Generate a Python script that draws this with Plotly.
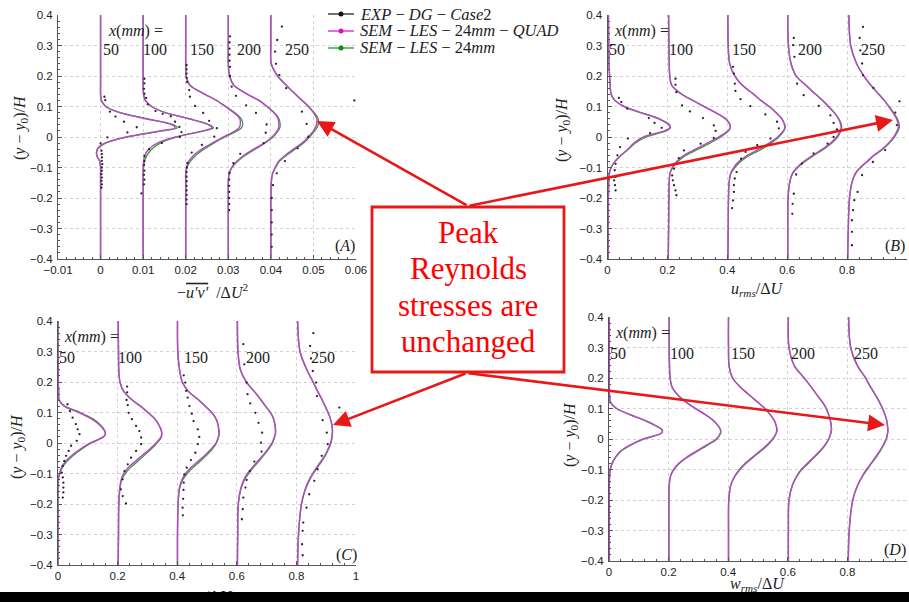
import plotly.graph_objects as go

W, H = 909, 602

# ---------------- data ----------------
STATIONS = ["50", "100", "150", "200", "250"]
OFF_A = [0.0, 0.01, 0.02, 0.03, 0.04]
OFF_UVW = [0.0, 0.2, 0.4, 0.6, 0.8]

# y levels for simulated profiles
Y_SIM = [0.40, 0.30, 0.24, 0.20, 0.17, 0.14, 0.12, 0.10, 0.08, 0.06, 0.04, 0.03, 0.02,
         0.00, -0.02, -0.04, -0.06, -0.08, -0.10, -0.12, -0.15, -0.20, -0.30, -0.40]

# (A) -u'v'/dU^2
A_QUAD = [
    [0, 0, 0, 0, 0, 0, 0.0002, 0.0012, 0.0045, 0.0105, 0.0168, 0.0175, 0.0140, 0.0060, 0.0012, -0.0007, -0.0009, -0.0002, 0, 0, 0, 0, 0, 0],
    [0, 0, 0, 0, 0, 0.0001, 0.0005, 0.0020, 0.0052, 0.0107, 0.0154, 0.0162, 0.0140, 0.0076, 0.0033, 0.0013, 0.0004, 0.0001, 0, 0, 0, 0, 0, 0],
    [0, 0, 0, 0.0001, 0.0010, 0.0045, 0.0072, 0.0093, 0.0113, 0.0127, 0.0128, 0.0125, 0.0116, 0.0089, 0.0062, 0.0038, 0.0019, 0.0007, 0.0002, 0, 0, 0, 0, 0],
    [0, 0, 0, 0.0003, 0.0013, 0.0045, 0.0072, 0.0091, 0.0107, 0.0117, 0.0119, 0.0118, 0.0115, 0.0103, 0.0084, 0.0060, 0.0037, 0.0020, 0.0008, 0.0002, 0, 0, 0, 0],
    [0, 0, 0.0001, 0.0016, 0.0036, 0.0058, 0.0073, 0.0088, 0.0100, 0.0108, 0.0107, 0.0104, 0.0100, 0.0088, 0.0073, 0.0053, 0.0034, 0.0018, 0.0010, 0.0004, 0.0001, 0, 0, 0],
]
A_SEM = [
    [0, 0, 0, 0, 0, 0, 0.0002, 0.0012, 0.0046, 0.0108, 0.0172, 0.0180, 0.0145, 0.0062, 0.0010, -0.0008, -0.0009, -0.0002, 0, 0, 0, 0, 0, 0],
    [0, 0, 0, 0, 0, 0.0001, 0.0005, 0.0020, 0.0052, 0.0108, 0.0156, 0.0165, 0.0143, 0.0080, 0.0040, 0.0020, 0.0009, 0.0003, 0.0001, 0, 0, 0, 0, 0],
    [0, 0, 0, 0.0001, 0.0010, 0.0045, 0.0072, 0.0094, 0.0115, 0.0130, 0.0134, 0.0131, 0.0121, 0.0092, 0.0066, 0.0043, 0.0024, 0.0011, 0.0003, 0, 0, 0, 0, 0],
    [0, 0, 0, 0.0003, 0.0013, 0.0045, 0.0072, 0.0091, 0.0108, 0.0119, 0.0122, 0.0121, 0.0117, 0.0105, 0.0086, 0.0063, 0.0040, 0.0022, 0.0009, 0.0002, 0, 0, 0, 0],
    [0, 0, 0.0001, 0.0016, 0.0036, 0.0058, 0.0074, 0.0089, 0.0102, 0.0111, 0.0111, 0.0108, 0.0103, 0.0091, 0.0077, 0.0057, 0.0037, 0.0020, 0.0011, 0.0004, 0.0001, 0, 0, 0],
]
A_EXP_Y = [
    [0.132, 0.121, 0.083, 0.067, 0.050, 0.032, 0.015, -0.001, -0.021, -0.045, -0.056, -0.067, -0.078, -0.089, -0.100, -0.111, -0.122, -0.133, -0.144, -0.155, -0.166],
    [0.191, 0.176, 0.158, 0.142, 0.128, 0.107, 0.085, 0.076, 0.068, 0.050, 0.033, 0.016, 0.000, -0.020, -0.040, -0.063, -0.079, -0.092, -0.110, -0.124, -0.140, -0.155, -0.185],
    [0.236, 0.222, 0.208, 0.194, 0.180, 0.154, 0.132, 0.102, 0.079, 0.053, 0.029, 0.001, -0.026, -0.051, -0.085, -0.100, -0.115, -0.130, -0.145, -0.160, -0.175, -0.190, -0.205, -0.220],
    [0.330, 0.310, 0.290, 0.270, 0.250, 0.230, 0.200, 0.165, 0.135, 0.104, 0.079, 0.041, 0.014, -0.020, -0.055, -0.086, -0.118, -0.140, -0.160, -0.180, -0.200, -0.220, -0.240],
    [0.362, 0.318, 0.280, 0.240, 0.203, 0.160, 0.120, 0.083, 0.043, 0.001, -0.037, -0.079, -0.119, -0.158, -0.200, -0.240, -0.280, -0.320, -0.360],
]
A_EXP_V = [
    [0.0009, 0.0011, 0.0022, 0.0035, 0.0055, 0.0085, 0.0063, 0.0016, 0.0000, 0.0002, 0.0003, 0.0003, 0.0003, 0.0004, 0.0003, 0.0003, 0.0002, 0.0003, 0.0002, 0.0003, 0.0002],
    [0.0003, 0.0003, 0.0002, 0.0003, 0.0007, 0.0011, 0.0029, 0.0046, 0.0065, 0.0075, 0.0085, 0.0090, 0.0086, 0.0044, 0.0014, 0.0003, 0.0003, 0.0002, 0.0003, 0.0002, 0.0003, 0.0002, -0.0004],
    [0.0002, 0.0002, 0.0002, 0.0002, 0.0003, 0.0008, 0.0010, 0.0022, 0.0041, 0.0055, 0.0073, 0.0067, 0.0038, 0.0014, 0.0004, 0.0003, 0.0002, 0.0002, 0.0002, 0.0002, 0.0002, 0.0002, 0.0002, 0.0002],
    [0.0004, 0.0003, 0.0003, 0.0003, 0.0003, 0.0004, 0.0004, 0.0008, 0.0018, 0.0042, 0.0065, 0.0090, 0.0088, 0.0083, 0.0028, 0.0012, 0.0003, 0.0002, 0.0002, 0.0002, 0.0002, 0.0002, 0.0002],
    [0.0026, 0.0015, 0.0010, 0.0012, 0.0020, 0.0036, 0.0196, 0.0073, 0.0084, 0.0088, 0.0063, 0.0033, 0.0014, 0.0005, 0.0002, 0.0002, 0.0002, 0.0002, 0.0002],
]

# (B) u_rms/dU
B_QUAD = [
    [0.003, 0.004, 0.005, 0.007, 0.009, 0.012, 0.025, 0.055, 0.110, 0.170, 0.205, 0.208, 0.190, 0.120, 0.088, 0.068, 0.045, 0.025, 0.012, 0.006, 0.004, 0.003, 0.002, 0.002],
    [0.004, 0.005, 0.006, 0.008, 0.014, 0.048, 0.085, 0.122, 0.161, 0.194, 0.209, 0.209, 0.202, 0.172, 0.133, 0.094, 0.055, 0.031, 0.016, 0.008, 0.006, 0.005, 0.004, 0.003],
    [0.002, 0.003, 0.008, 0.025, 0.050, 0.088, 0.112, 0.140, 0.163, 0.182, 0.191, 0.192, 0.187, 0.168, 0.139, 0.106, 0.067, 0.039, 0.022, 0.011, 0.006, 0.004, 0.003, 0.002],
    [0.002, 0.004, 0.013, 0.030, 0.062, 0.095, 0.118, 0.138, 0.157, 0.171, 0.179, 0.180, 0.177, 0.165, 0.145, 0.118, 0.085, 0.056, 0.033, 0.017, 0.008, 0.003, 0.002, 0.002],
    [0.006, 0.012, 0.032, 0.056, 0.079, 0.106, 0.124, 0.139, 0.153, 0.165, 0.171, 0.171, 0.167, 0.156, 0.139, 0.117, 0.089, 0.067, 0.044, 0.027, 0.016, 0.008, 0.004, 0.002],
]
B_SEM = [
    [0.003, 0.004, 0.005, 0.007, 0.009, 0.012, 0.025, 0.056, 0.112, 0.172, 0.207, 0.210, 0.195, 0.130, 0.092, 0.070, 0.046, 0.026, 0.012, 0.006, 0.004, 0.003, 0.002, 0.002],
    [0.004, 0.005, 0.006, 0.008, 0.014, 0.048, 0.085, 0.122, 0.161, 0.194, 0.209, 0.210, 0.204, 0.178, 0.142, 0.103, 0.062, 0.036, 0.018, 0.009, 0.006, 0.005, 0.004, 0.003],
    [0.002, 0.003, 0.008, 0.025, 0.050, 0.088, 0.112, 0.140, 0.163, 0.182, 0.192, 0.193, 0.189, 0.172, 0.146, 0.115, 0.075, 0.045, 0.025, 0.012, 0.006, 0.004, 0.003, 0.002],
    [0.002, 0.004, 0.013, 0.030, 0.062, 0.095, 0.118, 0.138, 0.157, 0.172, 0.181, 0.182, 0.179, 0.168, 0.149, 0.122, 0.090, 0.060, 0.035, 0.018, 0.008, 0.003, 0.002, 0.002],
    [0.006, 0.012, 0.032, 0.056, 0.079, 0.106, 0.124, 0.140, 0.155, 0.168, 0.174, 0.174, 0.170, 0.158, 0.141, 0.119, 0.091, 0.068, 0.045, 0.028, 0.016, 0.008, 0.004, 0.002],
]
B_EXP_Y = [
    [0.128, 0.115, 0.093, 0.062, 0.046, 0.030, 0.013, -0.005, -0.033, -0.060, -0.088, -0.109, -0.131, -0.142, -0.158, -0.175],
    [0.191, 0.171, 0.147, 0.104, 0.084, 0.062, 0.038, 0.020, -0.003, -0.022, -0.044, -0.069, -0.104, -0.126, -0.142, -0.158, -0.175, -0.191],
    [0.230, 0.208, 0.175, 0.151, 0.124, 0.101, 0.074, 0.050, 0.028, -0.005, -0.027, -0.049, -0.071, -0.115, -0.136, -0.158, -0.180, -0.208, -0.233],
    [0.325, 0.301, 0.263, 0.175, 0.137, 0.102, 0.071, 0.046, 0.025, 0.000, -0.022, -0.054, -0.087, -0.123, -0.186, -0.219, -0.252],
    [0.361, 0.325, 0.284, 0.241, 0.203, 0.161, 0.117, 0.080, 0.039, -0.043, -0.082, -0.125, -0.180, -0.207, -0.240, -0.273, -0.311, -0.355],
]
B_EXP_V = [
    [0.038, 0.046, 0.066, 0.138, 0.157, 0.181, 0.142, 0.068, 0.042, 0.033, 0.027, 0.024, 0.027, 0.022, 0.025, 0.027],
    [0.027, 0.027, 0.030, 0.049, 0.075, 0.119, 0.155, 0.161, 0.155, 0.111, 0.055, 0.038, 0.022, 0.016, 0.018, 0.022, 0.027, 0.030],
    [0.019, 0.022, 0.025, 0.027, 0.044, 0.077, 0.127, 0.166, 0.172, 0.144, 0.100, 0.061, 0.046, 0.031, 0.025, 0.022, 0.022, 0.019, 0.016],
    [0.022, 0.020, 0.024, 0.033, 0.055, 0.105, 0.144, 0.155, 0.166, 0.155, 0.135, 0.088, 0.049, 0.030, 0.022, 0.018, 0.017],
    [0.053, 0.042, 0.044, 0.050, 0.053, 0.088, 0.175, 0.161, 0.166, 0.127, 0.086, 0.050, 0.035, 0.024, 0.020, 0.016, 0.016, 0.016],
]

# (C) v_rms/dU
C_QUAD = [
    [0.000, 0.000, 0.001, 0.001, 0.002, 0.004, 0.022, 0.070, 0.111, 0.139, 0.156, 0.159, 0.152, 0.108, 0.075, 0.047, 0.026, 0.012, 0.005, 0.001, 0.000, 0.000, 0.000, 0.000],
    [0.002, 0.003, 0.004, 0.008, 0.020, 0.050, 0.078, 0.102, 0.124, 0.138, 0.147, 0.148, 0.146, 0.129, 0.108, 0.083, 0.060, 0.036, 0.020, 0.012, 0.007, 0.004, 0.003, 0.002],
    [0.001, 0.002, 0.008, 0.017, 0.037, 0.073, 0.095, 0.116, 0.130, 0.137, 0.140, 0.140, 0.138, 0.130, 0.114, 0.093, 0.070, 0.047, 0.028, 0.016, 0.007, 0.003, 0.001, 0.001],
    [0.002, 0.004, 0.012, 0.032, 0.058, 0.082, 0.097, 0.113, 0.123, 0.128, 0.130, 0.129, 0.126, 0.118, 0.104, 0.088, 0.070, 0.052, 0.036, 0.024, 0.013, 0.005, 0.003, 0.002],
    [0.004, 0.012, 0.035, 0.056, 0.071, 0.087, 0.097, 0.106, 0.114, 0.119, 0.121, 0.120, 0.119, 0.115, 0.106, 0.096, 0.082, 0.068, 0.055, 0.043, 0.030, 0.017, 0.007, 0.004],
]
C_SEM = [
    [0.000, 0.000, 0.001, 0.001, 0.002, 0.004, 0.024, 0.075, 0.116, 0.142, 0.157, 0.159, 0.153, 0.112, 0.079, 0.052, 0.030, 0.015, 0.006, 0.001, 0.000, 0.000, 0.000, 0.000],
    [0.002, 0.003, 0.004, 0.008, 0.020, 0.050, 0.078, 0.102, 0.124, 0.138, 0.147, 0.148, 0.147, 0.132, 0.113, 0.090, 0.068, 0.044, 0.026, 0.014, 0.008, 0.004, 0.003, 0.002],
    [0.001, 0.002, 0.008, 0.017, 0.037, 0.073, 0.095, 0.116, 0.130, 0.137, 0.140, 0.141, 0.139, 0.132, 0.118, 0.098, 0.077, 0.054, 0.034, 0.019, 0.008, 0.003, 0.001, 0.001],
    [0.002, 0.004, 0.012, 0.032, 0.058, 0.082, 0.097, 0.113, 0.123, 0.128, 0.130, 0.130, 0.127, 0.120, 0.107, 0.091, 0.074, 0.056, 0.040, 0.026, 0.014, 0.005, 0.003, 0.002],
    [0.004, 0.012, 0.035, 0.056, 0.071, 0.087, 0.097, 0.106, 0.114, 0.119, 0.121, 0.121, 0.120, 0.116, 0.108, 0.098, 0.085, 0.071, 0.057, 0.045, 0.031, 0.017, 0.007, 0.004],
]
C_EXP_Y = [
    [0.127, 0.105, 0.083, 0.062, 0.045, 0.029, 0.007, -0.009, -0.026, -0.042, -0.059, -0.075, -0.097, -0.113, -0.130, -0.146, -0.162, -0.179],
    [0.185, 0.166, 0.141, 0.124, 0.099, 0.078, 0.056, 0.039, 0.018, -0.004, -0.026, -0.048, -0.070, -0.092, -0.119, -0.152, -0.174, -0.198],
    [0.222, 0.198, 0.171, 0.149, 0.121, 0.096, 0.072, 0.045, 0.020, -0.004, -0.032, -0.056, -0.081, -0.103, -0.130, -0.154, -0.183, -0.212, -0.237],
    [0.324, 0.258, 0.198, 0.160, 0.130, 0.099, 0.066, 0.034, 0.001, -0.028, -0.061, -0.092, -0.121, -0.146, -0.179, -0.217, -0.250],
    [0.360, 0.318, 0.277, 0.236, 0.198, 0.154, 0.116, 0.075, 0.034, -0.004, -0.042, -0.086, -0.124, -0.168, -0.212, -0.261, -0.288, -0.332, -0.368],
]
C_EXP_V = [
    [0.032, 0.040, 0.049, 0.060, 0.066, 0.072, 0.063, 0.044, 0.036, 0.027, 0.021, 0.016, 0.013, 0.016, 0.018, 0.018, 0.018, 0.016],
    [0.032, 0.032, 0.030, 0.034, 0.037, 0.048, 0.062, 0.073, 0.079, 0.079, 0.062, 0.045, 0.034, 0.023, 0.017, 0.011, 0.017, 0.028],
    [0.022, 0.027, 0.030, 0.035, 0.041, 0.049, 0.055, 0.069, 0.074, 0.069, 0.061, 0.046, 0.032, 0.024, 0.022, 0.021, 0.020, 0.018, 0.019],
    [0.022, 0.025, 0.033, 0.036, 0.045, 0.062, 0.073, 0.085, 0.081, 0.083, 0.059, 0.044, 0.033, 0.029, 0.022, 0.020, 0.017],
    [0.057, 0.046, 0.049, 0.055, 0.066, 0.069, 0.144, 0.088, 0.102, 0.105, 0.085, 0.071, 0.060, 0.043, 0.034, 0.023, 0.021, 0.019, 0.021],
]

# (D) w_rms/dU
D_QUAD = [
    [0.001, 0.001, 0.001, 0.001, 0.001, 0.002, 0.005, 0.025, 0.070, 0.122, 0.163, 0.178, 0.176, 0.115, 0.070, 0.038, 0.021, 0.010, 0.004, 0.002, 0.001, 0.001, 0.001, 0.001],
    [0.002, 0.002, 0.003, 0.005, 0.012, 0.035, 0.060, 0.090, 0.123, 0.151, 0.169, 0.174, 0.174, 0.160, 0.127, 0.093, 0.060, 0.034, 0.017, 0.007, 0.002, 0.001, 0.001, 0.001],
    [0.001, 0.001, 0.003, 0.015, 0.041, 0.076, 0.100, 0.123, 0.141, 0.155, 0.162, 0.163, 0.161, 0.149, 0.130, 0.106, 0.081, 0.057, 0.038, 0.023, 0.009, 0.002, 0.001, 0.001],
    [0.002, 0.004, 0.022, 0.055, 0.079, 0.101, 0.117, 0.129, 0.137, 0.143, 0.146, 0.146, 0.144, 0.137, 0.124, 0.107, 0.086, 0.066, 0.045, 0.031, 0.016, 0.004, 0.002, 0.002],
    [0.004, 0.011, 0.034, 0.061, 0.078, 0.097, 0.108, 0.118, 0.126, 0.132, 0.135, 0.136, 0.135, 0.130, 0.120, 0.108, 0.094, 0.079, 0.064, 0.051, 0.035, 0.018, 0.006, 0.003],
]
D_SEM = [
    [0.001, 0.001, 0.001, 0.001, 0.001, 0.002, 0.005, 0.026, 0.071, 0.123, 0.164, 0.179, 0.177, 0.118, 0.073, 0.040, 0.022, 0.011, 0.004, 0.002, 0.001, 0.001, 0.001, 0.001],
    [0.002, 0.002, 0.003, 0.005, 0.012, 0.035, 0.060, 0.090, 0.123, 0.151, 0.169, 0.174, 0.175, 0.162, 0.131, 0.097, 0.063, 0.036, 0.018, 0.007, 0.002, 0.001, 0.001, 0.001],
    [0.001, 0.001, 0.003, 0.015, 0.041, 0.076, 0.100, 0.123, 0.141, 0.155, 0.162, 0.164, 0.162, 0.151, 0.133, 0.109, 0.084, 0.060, 0.040, 0.024, 0.009, 0.002, 0.001, 0.001],
    [0.002, 0.004, 0.022, 0.055, 0.079, 0.101, 0.117, 0.129, 0.137, 0.143, 0.146, 0.147, 0.145, 0.138, 0.126, 0.109, 0.089, 0.069, 0.047, 0.032, 0.016, 0.004, 0.002, 0.002],
    [0.004, 0.011, 0.034, 0.061, 0.078, 0.097, 0.108, 0.118, 0.126, 0.132, 0.135, 0.136, 0.135, 0.131, 0.121, 0.110, 0.096, 0.081, 0.066, 0.052, 0.035, 0.018, 0.006, 0.003],
]

LEGEND_NAMES = ["<i>EXP</i> − <i>DG</i> − <i>Case</i>2",
                "<i>SEM</i> − <i>LES</i> − 24<i>mm</i> − <i>QUAD</i>",
                "<i>SEM</i> − <i>LES</i> − 24<i>mm</i>"]
BOX_LINES = ["Peak", "Reynolds", "stresses are", "unchanged"]

# ---------------- styles ----------------
MAGENTA = "#b44cc0"
GREEN = "#3a9a3a"
DOT = "#262626"
BLACK = "#111111"
RED = "#e81818"
GRID = "#d2d2d2"
AXC = "#555555"
SERIF = "Liberation Serif, DejaVu Serif, serif"
SANS = "Liberation Sans, Arial, sans-serif"
TICKFONT = dict(family=SANS, size=11.5, color="#222")


def px(x):
    return x / W


def py(y):
    return 1 - y / H


fig = go.Figure()

panels = [
    ("x", "y", OFF_A, A_QUAD, A_SEM, A_EXP_Y, A_EXP_V),
    ("x2", "y2", OFF_UVW, B_QUAD, B_SEM, B_EXP_Y, B_EXP_V),
    ("x3", "y3", OFF_UVW, C_QUAD, C_SEM, C_EXP_Y, C_EXP_V),
    ("x4", "y4", OFF_UVW, D_QUAD, D_SEM, None, None),
]
for xa, ya, offs, quad, sem, ey, ev in panels:
    for i, off in enumerate(offs):
        assert len(sem[i]) == len(Y_SIM) and len(quad[i]) == len(Y_SIM)
        fig.add_trace(go.Scatter(x=[off + v for v in sem[i]], y=Y_SIM, mode="lines",
                                 line=dict(color=GREEN, width=1.3, shape="spline", smoothing=0.9),
                                 xaxis=xa, yaxis=ya, showlegend=False, hoverinfo="skip"))
        fig.add_trace(go.Scatter(x=[off + v for v in quad[i]], y=Y_SIM, mode="lines",
                                 line=dict(color=MAGENTA, width=1.5, shape="spline", smoothing=0.9),
                                 xaxis=xa, yaxis=ya, showlegend=False, hoverinfo="skip"))
        if ey is not None:
            assert len(ey[i]) == len(ev[i])
            fig.add_trace(go.Scatter(x=[off + v for v in ev[i]], y=ey[i], mode="markers",
                                     marker=dict(color=DOT, size=2.3),
                                     xaxis=xa, yaxis=ya, showlegend=False, hoverinfo="skip"))


def xaxis(dom, rng, dtick, minor, anchor):
    return dict(domain=dom, range=rng, tick0=0, dtick=dtick, anchor=anchor, automargin=False,
                showgrid=True, gridcolor=GRID, griddash="dot", gridwidth=1,
                zeroline=False, showline=True, linecolor=AXC, linewidth=1,
                ticks="inside", ticklen=4, tickcolor=AXC, tickwidth=1,
                minor=dict(dtick=minor, ticks="inside", ticklen=2, tickcolor=AXC, showgrid=False),
                tickfont=TICKFONT, fixedrange=True)


def yaxis(dom, anchor):
    return dict(domain=dom, range=[-0.4, 0.4], tick0=0, dtick=0.1, anchor=anchor, automargin=False,
                showgrid=True, gridcolor=GRID, griddash="dot", gridwidth=1,
                zeroline=False, showline=True, linecolor=AXC, linewidth=1,
                ticks="inside", ticklen=4, tickcolor=AXC, tickwidth=1,
                minor=dict(dtick=0.02, ticks="inside", ticklen=2, tickcolor=AXC, showgrid=False),
                tickfont=TICKFONT, ticklabelstandoff=2, fixedrange=True)


XA = [px(58), px(356)]
XB = [px(607.5), px(907)]
XC = [px(58), px(356)]
XD = [px(609), px(907)]
YAB = [py(259), py(15)]
YC = [py(565), py(321)]
YD = [py(561), py(317)]

fig.update_layout(
    width=W, height=H, margin=dict(l=0, r=0, t=0, b=0, pad=0, autoexpand=False),
    paper_bgcolor="white", plot_bgcolor="white", showlegend=False,
    xaxis=xaxis(XA, [-0.01, 0.06], 0.01, 0.002, "y"),
    yaxis=yaxis(YAB, "x"),
    xaxis2=xaxis(XB, [0, 1], 0.2, 0.04, "y2"),
    yaxis2=yaxis(YAB, "x2"),
    xaxis3=xaxis(XC, [0, 1], 0.2, 0.04, "y3"),
    yaxis3=yaxis(YC, "x3"),
    xaxis4=xaxis(XD, [0, 1], 0.2, 0.04, "y4"),
    yaxis4=yaxis(YD, "x4"),
)

ann = []
shapes = []


def text(x, y, s, size=16, color="#222", family=SERIF, xanchor="center", yanchor="middle", angle=0):
    ann.append(dict(x=px(x), y=py(y), xref="paper", yref="paper", text=s, showarrow=False,
                    font=dict(family=family, size=size, color=color),
                    xanchor=xanchor, yanchor=yanchor, textangle=angle))


# axis titles
YT = "(<i>y</i> − <i>y</i><sub>0</sub>)/<i>H</i>"
text(20, 128, YT, angle=-90)
text(563, 130, YT, angle=-90)
text(17, 447, YT, angle=-90)
text(570, 435, YT, angle=-90)
text(212, 291, "−<i><span style='text-decoration:overline'>u′v′</span></i>  /Δ<i>U</i><sup>2</sup>")
text(757, 289, "<i>u</i><sub><i>rms</i></sub>/Δ<i>U</i>")
text(207, 597, "<i>v</i><sub><i>rms</i></sub>/Δ<i>U</i>")
text(757, 584, "<i>w</i><sub><i>rms</i></sub>/Δ<i>U</i>")

# panel letters
text(345, 246, "(<i>A</i>)")
text(895, 246, "(<i>B</i>)")
text(346, 555, "(<i>C</i>)")
text(895, 550, "(<i>D</i>)")

# station labels
XMM = "<i>x</i>(<i>mm</i>) ="
station_pos = [
    (135, 31, 50, [111, 155, 202, 249, 297]),
    (641, 31, 50, [617, 681, 744, 810, 873]),
    (91, 337, 357, [67, 130, 196, 258, 323]),
    (642, 333, 353, [618, 682, 743, 803, 866]),
]
for hx, hy, ny, xs in station_pos:
    text(hx, hy, XMM, size=16)
    for s, xx in zip(STATIONS, xs):
        text(xx, ny, s, size=16)

# legend
leg_rows = [14, 31, 48]
leg_cols = [BLACK, "#d010d0", "#109010"]
for name, yy, col in zip(LEGEND_NAMES, leg_rows, leg_cols):
    shapes.append(dict(type="line", xref="paper", yref="paper", x0=px(328), x1=px(354),
                       y0=py(yy), y1=py(yy), line=dict(color=col, width=1.2)))
    shapes.append(dict(type="circle", xref="paper", yref="paper", x0=px(338.5), x1=px(343.5),
                       y0=py(yy + 2.5), y1=py(yy - 2.5), fillcolor=col, line=dict(color=col, width=0)))
    text(358, yy, name, size=16.5, xanchor="left")

# box
shapes.append(dict(type="rect", xref="paper", yref="paper", x0=px(372), x1=px(564),
                   y0=py(372), y1=py(207), fillcolor="white", line=dict(color=RED, width=2.8),
                   layer="above"))
for s, yy in zip(BOX_LINES, [232, 268.5, 305, 341.5]):
    text(468, yy, s, size=31, color="#ff0000", family="Liberation Serif, serif")

# arrows
for (tx, ty), (sx, sy) in [((317, 121), (468, 206)), ((893, 120), (468, 206)),
                           ((333, 425), (467, 373)), ((885, 425), (467, 373))]:
    ann.append(dict(x=px(tx), y=py(ty), xref="paper", yref="paper", text="", showarrow=True,
                    ax=sx - tx, ay=sy - ty, axref="pixel", ayref="pixel",
                    arrowhead=2, arrowsize=1.3, arrowwidth=2.6, arrowcolor=RED,
                    standoff=0, startstandoff=0))

# black strip at bottom (covers the cropped axis title)
ann.append(dict(x=0.5, y=py(597), xref="paper", yref="paper", text=" ", showarrow=False,
                xanchor="center", yanchor="middle", width=W + 4, height=10, bgcolor="black",
                borderpad=0, borderwidth=0, font=dict(size=4)))

fig.update_layout(annotations=ann, shapes=shapes)
fig.write_html("out.html")
